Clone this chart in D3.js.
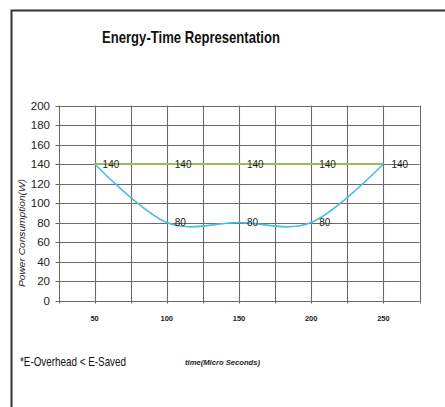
<!DOCTYPE html>
<html><head><meta charset="utf-8">
<script src="https://cdn.jsdelivr.net/npm/d3@7"></script>
<style>body{margin:0;background:#fff}svg{display:block}</style>
</head><body>
<script>
const times = [50, 100, 150, 200, 250];
const baseline = [140, 140, 140, 140, 140];
const managed = [140, 80, 80, 80, 140];
const yTicks = [0, 20, 40, 60, 80, 100, 120, 140, 160, 180, 200];
const xGrid = [25, 50, 75, 100, 125, 150, 175, 200, 225, 250, 275];
const xLabels = [50, 100, 150, 200, 250];
const titleText = "Energy-Time Representation";
const yTitle = "Power Consumption(W)";
const xTitle = "time(Micro Seconds)";
const note = "*E-Overhead < E-Saved";

const W = 445, H = 407;
const FONT = "Liberation Sans, Arial, sans-serif";
const svg = d3.select("body").append("svg").attr("width", W).attr("height", H);
svg.append("rect").attr("width", W).attr("height", H).attr("fill", "#fff");

// frame
svg.append("path").attr("d", "M11.5,407 V10.5 H445").attr("fill", "none").attr("stroke", "#333").attr("stroke-width", 2);

const x = d3.scaleLinear().domain([25, 275]).range([58.5, 419.5]);
const y = d3.scaleLinear().domain([0, 200]).range([300.5, 105.5]);

// title
svg.append("text").attr("x", 102).attr("y", 43).attr("font-family", FONT)
  .attr("font-size", 16.5).attr("font-weight", "bold").attr("fill", "#111")
  .attr("textLength", 178).attr("lengthAdjust", "spacingAndGlyphs").text(titleText);

const g = svg.append("g");
// horizontal grid
g.selectAll(".hg").data(yTicks).join("line")
  .attr("x1", x(25) - 3).attr("x2", x(275))
  .attr("y1", d => Math.round(y(d)) + 0.5).attr("y2", d => Math.round(y(d)) + 0.5)
  .attr("stroke", "#6b6b6b").attr("stroke-width", 1.1);
// vertical grid
g.selectAll(".vg").data(xGrid).join("line")
  .attr("x1", d => Math.round(x(d)) + 0.5).attr("x2", d => Math.round(x(d)) + 0.5)
  .attr("y1", y(200)).attr("y2", y(0) + 3)
  .attr("stroke", "#6b6b6b").attr("stroke-width", 1.1);

// y tick labels
g.selectAll(".yl").data(yTicks).join("text")
  .attr("x", 50).attr("y", d => y(d)).attr("dy", "0.36em")
  .attr("text-anchor", "end").attr("font-family", FONT)
  .attr("font-size", 11.5).attr("fill", "#222")
  .text(d => d);

// x tick labels
g.selectAll(".xl").data(xLabels).join("text")
  .attr("x", d => x(d)).attr("y", 321)
  .attr("text-anchor", "middle").attr("font-family", FONT)
  .attr("font-size", 7.5).attr("font-weight", "bold").attr("fill", "#222")
  .text(d => d);

// axis titles
svg.append("text").attr("transform", "translate(25,233) rotate(-90)")
  .attr("text-anchor", "middle").attr("font-family", FONT).attr("font-style", "italic")
  .attr("font-size", 8.5).attr("fill", "#222").attr("textLength", 108).attr("lengthAdjust", "spacingAndGlyphs")
  .text(yTitle);
svg.append("text").attr("x", 185).attr("y", 365).attr("font-family", FONT)
  .attr("font-style", "italic").attr("font-weight", "bold").attr("font-size", 7.5).attr("fill", "#222")
  .attr("textLength", 75).attr("lengthAdjust", "spacingAndGlyphs").text(xTitle);

// footnote
svg.append("text").attr("x", 20).attr("y", 366).attr("font-family", FONT)
  .attr("font-size", 13).attr("fill", "#111")
  .attr("textLength", 106).attr("lengthAdjust", "spacingAndGlyphs").text(note);

// lines
const lineStraight = d3.line().x((d, i) => x(times[i])).y(d => y(d));
svg.append("path").datum(baseline).attr("d", lineStraight)
  .attr("fill", "none").attr("stroke", "#9bbb59").attr("stroke-width", 2.2);
const lineSmooth = d3.line().x((d, i) => x(times[i])).y(d => y(d)).curve(d3.curveCardinal.tension(0));
svg.append("path").datum(managed).attr("d", lineSmooth)
  .attr("fill", "none").attr("stroke", "#4cbde8").attr("stroke-width", 1.6);

// data labels
function labels(arr, idx) {
  svg.append("g").selectAll("text").data(idx.map(i => ({v: arr[i], t: times[i]})))
    .join("text")
    .attr("x", d => x(d.t) + 8).attr("y", d => y(d.v)).attr("dy", "0.36em")
    .attr("font-family", FONT).attr("font-size", 10)
    .attr("fill", "#222").text(d => d.v);
}
labels(baseline, [0, 1, 2, 3, 4]);
labels(managed, [1, 2, 3]);
</script>
</body></html>
